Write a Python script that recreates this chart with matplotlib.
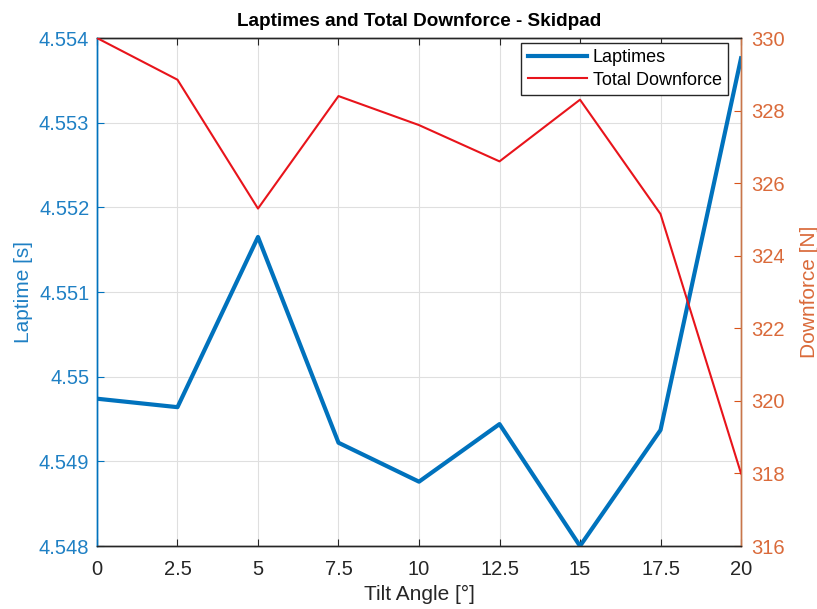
import matplotlib
matplotlib.use("Agg")
import matplotlib.pyplot as plt

plt.rcParams['font.family'] = ['Liberation Sans', 'DejaVu Sans']

tilt = [0, 2.5, 5, 7.5, 10, 12.5, 15, 17.5, 20]
laptimes = [4.54974, 4.54964, 4.55165, 4.54922, 4.54876, 4.54944, 4.54800, 4.54937, 4.55376]
downforce = [330.0, 328.85, 325.3, 328.4, 327.6, 326.6, 328.3, 325.15, 318.0]
xticks = [0, 2.5, 5, 7.5, 10, 12.5, 15, 17.5, 20]
xticklabels = ['0', '2.5', '5', '7.5', '10', '12.5', '15', '17.5', '20']
lticks = [4.548, 4.549, 4.550, 4.551, 4.552, 4.553, 4.554]
lticklabels = ['4.548', '4.549', '4.55', '4.551', '4.552', '4.553', '4.554']
rticks = [316, 318, 320, 322, 324, 326, 328, 330]

BLUE = '#0072BD'
LBLUE = '#1F80C4'
ORANGE = '#D95319'
LORANGE = '#DA6A3A'
RED = '#E8141B'
DARK = '#262626'

fig = plt.figure(figsize=(8.17, 6.09), dpi=100)
ax = fig.add_axes([0.1187, 0.1034, 0.7883, 0.8342])
ax2 = ax.twinx()

l1, = ax.plot(tilt, laptimes, color=BLUE, lw=3.0, label='Laptimes', zorder=3)
l2, = ax2.plot(tilt, downforce, color=RED, lw=1.5, label='Total Downforce', zorder=3)

ax.set_xlim(0, 20)
ax.set_ylim(4.548, 4.554)
ax2.set_ylim(316, 330)
ax.set_xticks(xticks)
ax.set_xticklabels(xticklabels)
ax.set_yticks(lticks)
ax.set_yticklabels(lticklabels)
ax2.set_yticks(rticks)

ax.grid(True, color='#DFDFDF', lw=0.8)
ax.set_axisbelow(True)

ax.tick_params(axis='x', direction='in', length=5, colors=DARK, labelsize=14.5, top=True, pad=10)
ax.tick_params(axis='y', direction='in', length=5, colors=BLUE, labelsize=14.5, labelcolor=LBLUE, pad=5.5)
ax2.tick_params(axis='y', direction='in', length=5, colors=ORANGE, labelsize=14.5, labelcolor=LORANGE, pad=7)

for a in (ax, ax2):
    a.spines['top'].set_color(DARK)
    a.spines['bottom'].set_color(DARK)
    a.spines['left'].set_color(BLUE)
    a.spines['right'].set_color('#C8764A')
    for s in a.spines.values():
        s.set_linewidth(1.0)

ax.set_xlabel('Tilt Angle [°]', fontsize=15, color=DARK, labelpad=4.5)
ax.set_ylabel('Laptime [s]', fontsize=15, color=LBLUE, labelpad=4)
ax2.set_ylabel('Downforce [N]', fontsize=15, color=LORANGE, labelpad=11)
ax.set_title('Laptimes and Total Downforce - Skidpad', fontsize=13.6, fontweight='bold', color='black', pad=9)

leg = ax2.legend(handles=[l1, l2], loc='upper right', fontsize=13, frameon=True,
                 fancybox=False, edgecolor=DARK, framealpha=1, borderpad=0.35,
                 handlelength=3.3, handletextpad=0.3, labelspacing=0.3,
                 borderaxespad=0, bbox_to_anchor=(0.98, 0.99))
leg.get_frame().set_linewidth(1.0)

fig.savefig('out.png', dpi=100)
